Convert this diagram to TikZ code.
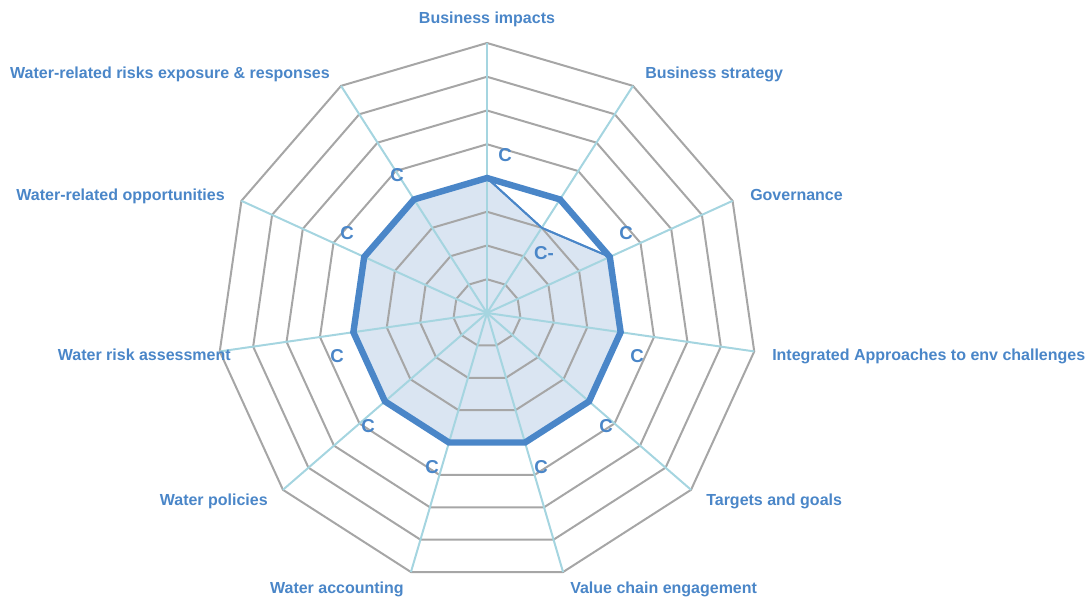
\documentclass[tikz,border=0pt]{standalone}
\usepackage{fontspec}
\setmainfont{Liberation Sans}
\definecolor{txtblue}{RGB}{74,134,200}
\definecolor{serblue}{RGB}{74,134,200}
\definecolor{fillblue}{RGB}{218,229,242}
\definecolor{gridgray}{RGB}{166,166,166}
\definecolor{spokeblue}{RGB}{165,213,224}
\begin{document}
\begin{tikzpicture}[x=0.75pt,y=-0.75pt,
  gridring/.style={draw=gridgray,line width=1.5pt,line join=miter},
  spoke/.style={draw=spokeblue,line width=1.5pt},
  thickser/.style={draw=serblue,line width=4.8pt,line join=miter},
  thinser/.style={draw=serblue,line width=1.4pt,fill=fillblue,line join=miter},
  catlabel/.style={font=\fontsize{12}{14}\selectfont\bfseries,text=txtblue,inner sep=0pt},
  grade/.style={font=\fontsize{14}{16}\selectfont\bfseries,text=txtblue,inner sep=0pt}]
\useasboundingbox (0,0) rectangle (1090,602);
\coordinate (ctr) at (487,313);
\begin{scope}[shift={(487,313)}]
  % filled series (C- at business strategy)
  \draw[thinser] (-90:135) -- ({360/11-90}:101.25)
    \foreach \k in {2,...,10}{ -- ({\k*360/11-90}:135)} -- cycle;
  % grid rings
  \foreach \r in {1,...,8}{
    \draw[gridring] (-90:\r*33.75)
      \foreach \k in {1,...,10}{ -- ({\k*360/11-90}:\r*33.75)} -- cycle;
  }
  % spokes
  \foreach \k in {0,...,10}{
    \coordinate (o\k) at ({\k*360/11-90}:270);
    \draw[spoke] (ctr) -- (o\k);
  }
  % thick series
  \draw[thickser] (-90:135)
    \foreach \k in {1,...,10}{ -- ({\k*360/11-90}:135)} -- cycle;
  % thin series outline on top
  \draw[draw=serblue,line width=1.4pt] (-90:135) -- ({360/11-90}:101.25) -- ({2*360/11-90}:135);
\end{scope}
% category labels
\node[catlabel,anchor=base] (l0) at (487,24) {Business impacts};
\node[catlabel,anchor=base west] (l1) at (645,79) {Business strategy};
\node[catlabel,anchor=base west] (l2) at (750,201) {Governance};
\node[catlabel,anchor=base west] (l3) at (772,361) {Integrated Approaches to env challenges};
\node[catlabel,anchor=base west] (l4) at (706,506) {Targets and goals};
\node[catlabel,anchor=base west] (l5) at (570,593) {Value chain engagement};
\node[catlabel,anchor=base east] (l6) at (404,593) {Water accounting};
\node[catlabel,anchor=base east] (l7) at (268,506) {Water policies};
\node[catlabel,anchor=base east] (l8) at (231,361) {Water risk assessment};
\node[catlabel,anchor=base east] (l9) at (225,201) {Water-related opportunities};
\node[catlabel,anchor=base east] (l10) at (330,79) {Water-related risks exposure \& responses};
% grade labels
\node[grade] (g0) at (505,155) {C};
\node[grade] (g1) at (544,253) {C-};
\node[grade] (g2) at (626,233) {C};
\node[grade] (g3) at (637,356) {C};
\node[grade] (g4) at (606,426) {C};
\node[grade] (g5) at (541,467) {C};
\node[grade] (g6) at (432,467) {C};
\node[grade] (g7) at (368,426) {C};
\node[grade] (g8) at (337,356) {C};
\node[grade] (g9) at (347,233) {C};
\node[grade] (g10) at (397,175) {C};
\end{tikzpicture}
\end{document}
